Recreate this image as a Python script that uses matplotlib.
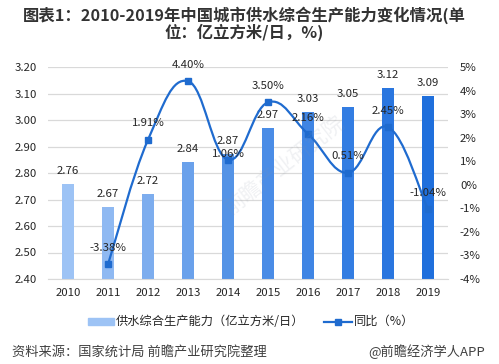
import numpy as np
import matplotlib
matplotlib.use("Agg")
import matplotlib.pyplot as plt
from matplotlib.path import Path
from matplotlib.patches import PathPatch, Rectangle
from matplotlib.lines import Line2D

plt.rcParams['font.family'] = ['Noto Sans CJK SC', 'DejaVu Sans']

# Data
years = ["2010", "2011", "2012", "2013", "2014", "2015", "2016", "2017", "2018", "2019"]
capacity = [2.76, 2.67, 2.72, 2.84, 2.87, 2.97, 3.03, 3.05, 3.12, 3.09]
growth_years = ["2011", "2012", "2013", "2014", "2015", "2016", "2017", "2018", "2019"]
growth = [-3.38, 1.91, 4.40, 1.06, 3.50, 2.16, 0.51, 2.45, -1.04]
left_ticks = [2.40, 2.50, 2.60, 2.70, 2.80, 2.90, 3.00, 3.10, 3.20]
right_ticks = [-4, -3, -2, -1, 0, 1, 2, 3, 4, 5]
bar_colors = ["#9DC3F5", "#8FB9F2", "#7DADEE", "#6AA1EB", "#5493E6",
              "#4A8CE6", "#3F85E4", "#337DE2", "#2A76DF", "#1F6FDC"]
line_color = "#1F6BCF"
text_color = "#262626"
grid_color = "#D9D9D9"
label_size = 8.2

W, H = 499, 364
fig = plt.figure(figsize=(W / 100, H / 100), dpi=100)
ax = fig.add_axes([48 / W, (H - 279) / H, 400 / W, 212 / H])
ax2 = ax.twinx()
ax2.set_position(ax.get_position())

# Bars
pos = np.arange(len(years))
ax.set_ylim(2.40, 3.20)
ax.set_xlim(-0.5, 9.5)
ax.set_yticks(left_ticks)
ax.set_yticklabels([f"{v:.2f}" for v in left_ticks])
ax.set_xticks(pos)
ax.set_xticklabels(years)
ax.grid(axis="y", color=grid_color, lw=0.9)
ax.set_axisbelow(True)
ax.bar(pos, capacity, width=0.32, color=bar_colors, zorder=2)
for i, v in enumerate(capacity):
    ax.annotate(f"{v:.2f}", (i, v), xytext=(0, 9.4), textcoords="offset points",
                ha="center", va="center", fontsize=label_size, color=text_color, zorder=6)

# Smoothed growth line
ax2.set_ylim(-4, 5)
ax2.set_yticks(right_ticks)
ax2.set_yticklabels([f"{v}%" for v in right_ticks])
gx = np.array([years.index(y) for y in growth_years], dtype=float)
gy = np.array(growth)
verts = [(gx[0], gy[0])]
codes = [Path.MOVETO]
t = 0.6 / 3
for i in range(len(gx) - 1):
    p0 = i - 1 if i > 0 else i
    p3 = i + 2 if i + 2 < len(gx) else i + 1
    c1 = (gx[i] + (gx[i + 1] - gx[p0]) * t, gy[i] + (gy[i + 1] - gy[p0]) * t)
    c2 = (gx[i + 1] - (gx[p3] - gx[i]) * t, gy[i + 1] - (gy[p3] - gy[i]) * t)
    verts += [c1, c2, (gx[i + 1], gy[i + 1])]
    codes += [Path.CURVE4] * 3
ax2.add_patch(PathPatch(Path(verts, codes), fc="none", ec=line_color, lw=1.6, zorder=3))
ax2.plot(gx, gy, ls="none", marker="s", ms=5, color=line_color, zorder=4)
for year, x, v in zip(growth_years, gx, gy):
    # the 2014 label sits close to its marker, under the bar label
    offset = 4.3 if year == "2014" else 11.8
    ax2.annotate(f"{v:.2f}%", (x, v), xytext=(0, offset), textcoords="offset points",
                 ha="center", va="center", fontsize=label_size, color=text_color, zorder=7)

for a in (ax, ax2):
    for s in a.spines.values():
        s.set_visible(False)
    a.tick_params(length=0, labelsize=label_size, labelcolor=text_color)
ax.spines["bottom"].set_visible(True)
ax.spines["bottom"].set_color(grid_color)
ax.tick_params(axis="x", pad=6.5)
ax.tick_params(axis="y", pad=8)
ax2.tick_params(axis="y", pad=8.6)

# Watermark, faint and on top of the bars
fig.text(285 / W, 1 - 165 / H, "前瞻产业研究院", fontsize=15, color="#8A94A6", alpha=0.13,
         rotation=38, ha="center", va="center", zorder=10)

# Title
fig.text(244 / W, 1 - 15 / H, "图表1：2010-2019年中国城市供水综合生产能力变化情况(单",
         fontsize=11.75, fontweight="bold", color="#333333", ha="center", va="center")
fig.text(244 / W, 1 - 32 / H, "位：亿立方米/日，%)",
         fontsize=11.75, fontweight="bold", color="#333333", ha="center", va="center")

# Legend, drawn by hand to follow the reference spacing
fig.add_artist(Rectangle((88 / W, 1 - 325 / H), 26 / W, 7 / H, color=bar_colors[0],
                         transform=fig.transFigure))
fig.text(116 / W, 1 - 321.5 / H, "供水综合生产能力（亿立方米/日）", fontsize=8.8,
         color=text_color, va="center")
fig.add_artist(Line2D([324 / W, 352 / W], [1 - 321.5 / H] * 2, color=line_color, lw=1.6,
                      transform=fig.transFigure))
fig.add_artist(Line2D([338 / W], [1 - 321.5 / H], color=line_color, marker="s", ms=5,
                      transform=fig.transFigure))
fig.text(354 / W, 1 - 321.5 / H, "同比（%）", fontsize=8.8, color=text_color, va="center")

# Footer
fig.text(12 / W, 1 - 352 / H, "资料来源：国家统计局 前瞻产业研究院整理", fontsize=9.5,
         color="#404040", va="center")
fig.text(485 / W, 1 - 352 / H, "@前瞻经济学人APP", fontsize=9.5,
         color="#404040", va="center", ha="right")

fig.savefig("out.png", dpi=100)
